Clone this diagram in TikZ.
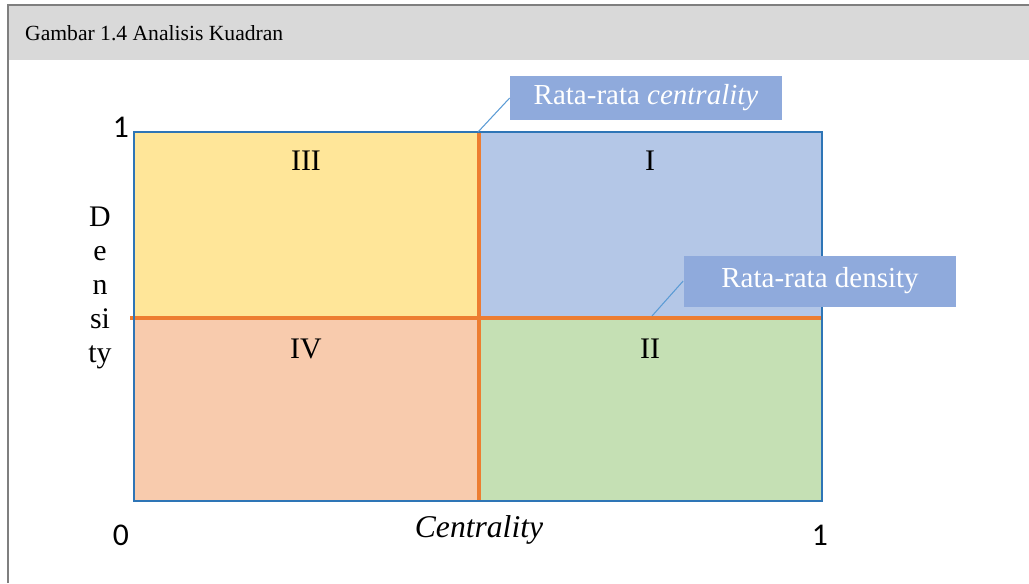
\documentclass[tikz,border=0pt]{standalone}
\usepackage{fontspec}
\setmainfont{Liberation Serif}
\newfontfamily\digitfont{Carlito}
\definecolor{hdrgray}{HTML}{D9D9D9}
\definecolor{framegray}{HTML}{7F7F7F}
\definecolor{axisblue}{HTML}{2E75B6}
\definecolor{meanorange}{HTML}{ED7D31}
\definecolor{qone}{HTML}{B4C7E7}
\definecolor{qtwo}{HTML}{C5E0B4}
\definecolor{qthree}{HTML}{FFE699}
\definecolor{qfour}{HTML}{F8CBAD}
\definecolor{calloutblue}{HTML}{8FAADC}
\definecolor{leaderblue}{HTML}{5B9BD5}
\begin{document}
\begin{tikzpicture}[x=0.02cm,y=-0.02cm,
  quadlabel/.style={font=\fontsize{17}{20}\selectfont},
  ticklabel/.style={font=\digitfont\fontsize{18}{21}\selectfont},
  callout/.style={fill=calloutblue,text=white,inner sep=0pt,
    font=\fontsize{16.5}{19}\selectfont},
  meanline/.style={meanorange,line width=2.8pt}]
\useasboundingbox (0,0) rectangle (1029,583);
% header band and frame
\fill[hdrgray] (8,5) rectangle (1029,60);
\draw[framegray,line width=1.5pt] (8,583) -- (8,5) -- (1029,5);
\node[anchor=west,font=\fontsize{12.3}{14}\selectfont] (title) at (19,33) {Gambar 1.4 Analisis Kuadran};
% quadrants
\fill[qthree] (134,132) rectangle (479,318);
\fill[qone] (479,132) rectangle (822,318);
\fill[qfour] (134,318) rectangle (479,501);
\fill[qtwo] (479,318) rectangle (822,501);
\draw[meanline] (479,132) -- (479,501);
\draw[meanline] (130,318) -- (822,318);
\draw[axisblue,line width=1.2pt] (134,132) rectangle (822,501);
\node[quadlabel] (qIII) at (306,161) {III};
\node[quadlabel] (qI) at (650,161) {I};
\node[quadlabel] (qIV) at (306,349) {IV};
\node[quadlabel] (qII) at (650,349) {II};
% axes
\node[ticklabel] (ytop) at (121,127) {1};
\node[ticklabel] (xzero) at (121,535) {0};
\node[ticklabel] (xone) at (820,535) {1};
\node[font=\fontsize{18}{21}\selectfont] (xlabel) at (479,530) {\textit{Centrality}};
\node[align=center,font=\fontsize{17}{19.3}\selectfont] (ylabel) at (100,288) {D\\e\\n\\si\\ty};
% callouts
\node[callout,minimum width=5.44cm,minimum height=0.88cm] (cbox) at (646,98) {Rata-rata \textit{centrality}};
\node[callout,minimum width=5.46cm,minimum height=1.02cm] (dbox) at (820,281) {Rata-rata density};
\coordinate (cmean) at (478,132);
\coordinate (dmean) at (652,316);
\draw[leaderblue,line width=0.6pt] (cbox.west) -- (cmean);
\draw[leaderblue,line width=0.6pt] (dbox.west) -- (dmean);
\end{tikzpicture}
\end{document}
